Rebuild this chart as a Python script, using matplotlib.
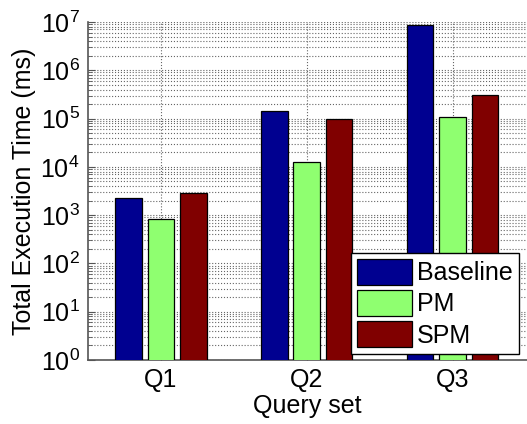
import numpy as np
import matplotlib
matplotlib.use("Agg")
import matplotlib.pyplot as plt
from matplotlib.ticker import LogLocator, NullFormatter

############################
# Data (ms)
############################
queries = ["Q1", "Q2", "Q3"]
baseline = [2260, 146000, 8.6e6]
pm = [840, 12600, 106000]
spm = [2870, 98500, 315000]

series = [("Baseline", baseline, "#000090"),
          ("PM", pm, "#8fff70"),
          ("SPM", spm, "#800000")]

plt.rcParams['font.family'] = ['Liberation Sans', 'DejaVu Sans']

############################
# Plot
############################
fig = plt.figure(figsize=(5.27, 4.24), dpi=100)
ax = fig.add_axes([88/527, 64/424, 439/527, 338/424])

x = np.arange(1, len(queries) + 1)
offset = 0.2222
width = 0.182
for i, (name, vals, col) in enumerate(series):
    ax.bar(x + (i - 1) * offset, vals, width, color=col, edgecolor='black',
           linewidth=0.9, label=name, zorder=3)

ax.set_yscale('log')
ax.set_ylim(1, 1e7)
ax.set_xlim(0.5, 3.51)
ax.set_xticks(x)
ax.set_xticklabels(queries)
ax.yaxis.set_major_locator(LogLocator(base=10, numticks=20))
ax.yaxis.set_minor_locator(LogLocator(base=10, subs=np.arange(2, 10), numticks=100))
ax.yaxis.set_minor_formatter(NullFormatter())

ax.grid(True, which='major', axis='both', linestyle=':', color='#666666', linewidth=0.8, zorder=0)
ax.grid(True, which='minor', axis='y', linestyle=':', color='#666666', linewidth=0.8, zorder=0)

for side in ['top', 'right']:
    ax.spines[side].set_visible(False)
for side in ['left', 'bottom']:
    ax.spines[side].set_color('#555555')
    ax.spines[side].set_linewidth(1.2)

ax.tick_params(which='both', direction='in', labelsize=18, colors='#555555',
               labelcolor='black', pad=6)
ax.tick_params(which='major', length=5)
ax.tick_params(which='minor', length=3)
ax.tick_params(axis='x', which='minor', bottom=False)

ax.set_xlabel("Query set", fontsize=18, labelpad=1)
ax.set_ylabel("Total Execution Time (ms)", fontsize=18, labelpad=3)

leg = ax.legend(loc='lower right', fontsize=18, frameon=True, fancybox=False,
                edgecolor='black', framealpha=1, handlelength=2.2, handleheight=1.2,
                handletextpad=0.2, borderpad=0.25, labelspacing=0.2,
                borderaxespad=0.0, bbox_to_anchor=(0.982, 0.018))
leg.get_frame().set_linewidth(1.0)
leg.set_zorder(5)

fig.savefig("out.png", dpi=100)
